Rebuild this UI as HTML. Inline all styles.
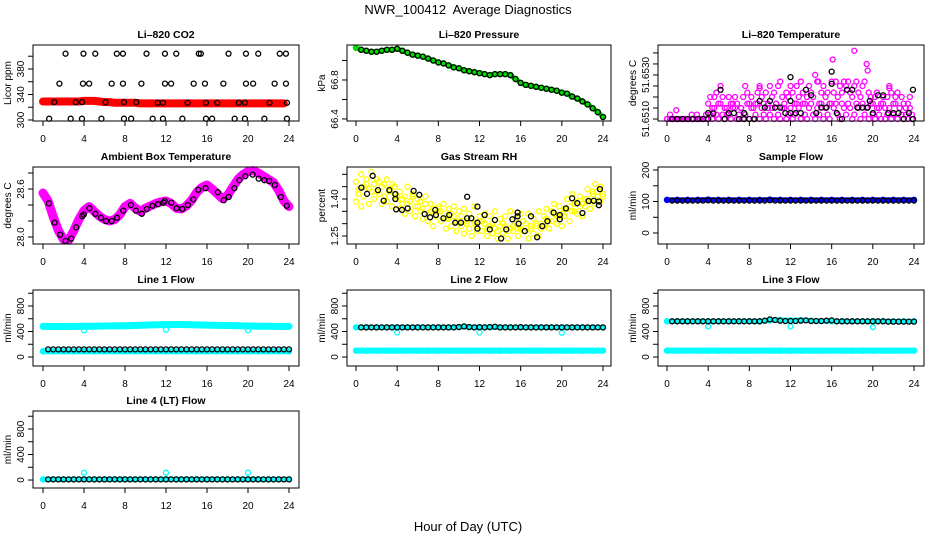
<!DOCTYPE html>
<html><head><meta charset="utf-8"><title>NWR_100412 Average Diagnostics</title>
<style>
html,body{margin:0;padding:0;background:#fff;}
svg{display:block;font-family:"Liberation Sans",sans-serif;}
</style></head>
<body>
<svg id="chart" width="936" height="540" viewBox="0 0 936 540" xmlns="http://www.w3.org/2000/svg">
<rect x="0" y="0" width="936" height="540" fill="#fff"/>
<text x="468" y="14" font-size="13" text-anchor="middle" style="white-space:pre">NWR_100412  Average Diagnostics</text>
<text x="468" y="531" font-size="13" text-anchor="middle">Hour of Day (UTC)</text>
</svg>
<script>
// ---------- shared x categories ----------
const hrs=[0,1,2,3,4,5,6,7,8,9,10,11,12,13,14,15,16,17,18,19,20,21,22,23,24];
const hh=[0.5,1,1.5,2,2.5,3,3.5,4,4.5,5,5.5,6,6.5,7,7.5,8,8.5,9,9.5,10,10.5,11,11.5,12,12.5,13,13.5,14,14.5,15,15.5,16,16.5,17,17.5,18,18.5,19,19.5,20,20.5,21,21.5,22,22.5,23,23.5,24];
const hh0=[0,0.5,1,1.5,2,2.5,3,3.5,4,4.5,5,5.5,6,6.5,7,7.5,8,8.5,9,9.5,10,10.5,11,11.5,12,12.5,13,13.5,14,14.5,15,15.5,16,16.5,17,17.5,18,18.5,19,19.5,20,20.5,21,21.5,22,22.5,23,23.5,24];
const xTicks=[0,4,8,12,16,20,24];

// ---------- CO2 ----------
const co2Band=[329,329,329,329,329,329,329,329,330,330,330,329,328,328,327,327,327,327,327,326,326,326,326,326,326,326,326,326,326,326,326,326,326,326,326,326,326,326,326,326,326,326,326,326,326,326,326,326,326];
const co2BlkX=[2.2,3.95,5.1,7.2,7.8,10.1,11.9,13.0,15.2,15.4,18.1,19.8,21.0,23.1,23.7, 1.6,3.9,4.5,6.7,7.8,9.6,11.9,12.5,14.7,15.8,17.6,19.8,20.5,22.6,23.7, 0.6,2.7,3.8,5.7,7.9,8.6,10.7,11.7,13.6,15.9,16.5,18.7,19.7,21.6,23.8, 1.1,3.2,3.8,6.1,7.9,9.1,11.2,11.7,14.1,15.9,17.0,19.1,19.7,22.1,23.8];
const co2BlkY=[404,404,404,404,404,404,404,404,404,404,404,404,404,404,404, 357,357,357,357,357,357,357,357,357,357,357,357,357,357,357, 302,302,302,302,302,302,302,302,302,302,302,302,302,302,302, 328,328,328,328,328,328,327,327,327,327,327,327,327,327,327];

// ---------- Pressure ----------
const presBand=[67.13,67.11,67.10,67.09,67.09,67.10,67.11,67.11,67.12,67.10,67.08,67.06,67.05,67.04,67.02,67.00,66.98,66.97,66.95,66.93,66.92,66.90,66.89,66.88,66.87,66.86,66.85,66.86,66.86,66.86,66.85,66.81,66.77,66.75,66.74,66.73,66.72,66.71,66.70,66.69,66.67,66.66,66.63,66.61,66.58,66.55,66.51,66.47,66.42];
const presBlk=[67.11,67.10,67.09,67.09,67.10,67.11,67.11,67.12,67.10,67.08,67.06,67.05,67.04,67.02,67.00,66.98,66.97,66.95,66.93,66.92,66.90,66.89,66.88,66.87,66.86,66.85,66.86,66.86,66.86,66.85,66.81,66.77,66.75,66.74,66.73,66.72,66.71,66.70,66.69,66.67,66.66,66.63,66.61,66.58,66.55,66.51,66.47,66.42];

// ---------- Li-820 Temperature ----------
const pinkX=[0,0.3,0.6,0.9,1.2,1.5,1.8,2.1,2.4,2.6,2.9,3.2,3.5,3.8,4.0,4.2,4.4,4.6,4.8,5.0,5.2,5.4,5.6,5.8,6.0,6.2,6.4,6.6,6.8,7.0,7.2,7.4,7.6,7.8,8.0,8.2,8.4,8.6,8.8,9.0,9.2,9.4,9.6,9.8,10.0,10.2,10.4,10.6,10.8,11.0,11.2,11.4,11.6,11.8,12.0,12.2,12.4,12.6,12.8,13.0,13.2,13.4,13.6,13.8,14.0,14.2,14.4,14.6,14.8,15.0,15.2,15.4,15.6,15.8,16.0,16.2,16.4,16.6,16.8,17.0,17.2,17.4,17.6,17.8,18.0,18.2,18.4,18.6,18.8,19.0,19.2,19.4,19.6,19.8,20.0,20.2,20.4,20.6,20.8,21.0,21.2,21.4,21.6,21.8,22.0,22.2,22.4,22.6,22.8,23.0,23.2,23.4,23.6,23.8];
const pinkY1=[51.6510,51.6512,51.6510,51.6510,51.6510,51.6510,51.6510,51.6510,51.6512,51.6510,51.6512,51.6510,51.6510,51.6512,
51.6517,51.6520,51.6515,51.6520,51.6522,51.6517,51.6525,51.6520,51.6515,51.6512,51.6520,51.6517,51.6515,51.6520,51.6517,51.6512,51.6515,51.6520,51.6525,51.6522,51.6517,
51.6520,51.6515,51.6517,51.6522,51.6525,51.6520,51.6517,51.6522,51.6515,51.6525,51.6520,51.6522,51.6517,51.6525,51.6527,51.6520,51.6515,51.6522,51.6520,51.6525,
51.6522,51.6517,51.6525,51.6520,51.6527,51.6522,51.6517,51.6520,51.6525,51.6522,51.6520,51.6530,51.6527,51.6517,51.6522,51.6525,51.6520,51.6522,51.6517,51.6527,
51.6522,51.6527,51.6520,51.6525,51.6522,51.6527,51.6525,51.6527,51.6522,51.6520,51.6525,51.6527,51.6522,51.6520,51.6525,51.6527,51.6535,51.6522,51.6520,51.6517,
51.6520,51.6522,51.6515,51.6517,51.6520,51.6515,51.6520,51.6525,51.6522,51.6517,51.6520,51.6522,51.6515,51.6520,51.6517,51.6515,51.6517,51.6520,51.6512];
const pinkY2=[51.6510,51.6510,51.6510,51.6510,51.6510,51.6510,51.6510,51.6510,51.6510,51.6510,51.6510,51.6510,51.6510,51.6510,
51.6510,51.6512,51.6510,51.6515,51.6512,51.6510,51.6517,51.6512,51.6510,51.6515,51.6512,51.6510,51.6517,51.6515,51.6510,51.6512,51.6515,51.6510,51.6512,51.6517,51.6510,
51.6515,51.6510,51.6512,51.6517,51.6510,51.6515,51.6512,51.6510,51.6517,51.6512,51.6515,51.6510,51.6517,51.6512,51.6510,51.6515,51.6517,51.6510,51.6512,51.6515,
51.6510,51.6512,51.6517,51.6515,51.6510,51.6517,51.6512,51.6510,51.6515,51.6517,51.6512,51.6510,51.6515,51.6512,51.6517,51.6510,51.6515,51.6512,51.6510,51.6517,
51.6515,51.6517,51.6512,51.6510,51.6517,51.6515,51.6512,51.6517,51.6515,51.6510,51.6512,51.6517,51.6515,51.6510,51.6517,51.6512,51.6515,51.6510,51.6517,51.6512,
51.6510,51.6515,51.6512,51.6510,51.6517,51.6510,51.6512,51.6515,51.6510,51.6512,51.6517,51.6510,51.6515,51.6512,51.6510,51.6512,51.6510,51.6515,51.6510];
const pinkOutX=[16.1,18.2,19.5,14.7,9.0,21.6,0.9];
const pinkOutY=[51.6537,51.6541,51.6532,51.6527,51.6524,51.6524,51.6514];
const tempBlkX=[0.5,1,1.5,2,2.5,3,3.5,4,4,4.5,5.2,5.6,6,6.5,7,7.5,7.5,8,8.5,9,9.5,10,10.5,11,11.5,12,12,12,12.5,13,13.5,14,14.5,15,15.5,16,16,16.5,17,17.5,18,18.5,19,19.5,19.7,20,20.5,21,21.5,22,22.5,23,23.5,23.9,23.9];
const tempBlkY=[51.6510,51.6510,51.6510,51.6510,51.6510,51.6510,51.6510,51.6510,51.65127,51.65125,51.65233,51.6510,51.65127,51.65127,51.6510,51.6510,51.65127,51.6510,51.6510,51.65182,51.65152,51.65182,51.65152,51.65152,51.65127,51.6529,51.65182,51.65127,51.65127,51.65127,51.65233,51.65208,51.65127,51.65152,51.65152,51.65315,51.6526,51.65127,51.6510,51.65233,51.65233,51.65152,51.65152,51.65152,51.65182,51.65127,51.65208,51.65208,51.65127,51.65127,51.65127,51.6510,51.65127,51.65233,51.6510];

// ---------- Ambient Box Temperature ----------
const ambBand=[28.55,28.45,28.25,28.08,27.97,27.96,28.08,28.22,28.33,28.38,28.32,28.26,28.22,28.20,28.22,28.28,28.38,28.42,28.36,28.32,28.36,28.39,28.42,28.44,28.45,28.42,28.36,28.35,28.39,28.46,28.56,28.62,28.65,28.60,28.54,28.48,28.52,28.62,28.72,28.78,28.82,28.83,28.80,28.76,28.72,28.68,28.58,28.45,28.38];
const ambBlkX=[0.58,1.13,1.68,2.2,2.75,3.24,3.82,3.98,4.53,5.11,5.66,6.15,6.7,7.22,7.83,8.58,9.06,9.64,10.13,10.68,11.23,11.75,11.88,12.52,13.04,13.59,14.14,14.66,15.15,15.86,17.06,17.64,18.12,18.67,19.16,19.74,20.45,21.04,21.59,22.07,22.62,23.2,23.79];
const ambBlkY=[28.42,28.18,28.03,27.95,27.98,28.12,28.26,28.28,28.36,28.29,28.24,28.20,28.20,28.24,28.33,28.40,28.33,28.29,28.35,28.39,28.41,28.43,28.45,28.43,28.36,28.35,28.40,28.47,28.59,28.61,28.56,28.46,28.50,28.61,28.71,28.76,28.78,28.73,28.71,28.70,28.65,28.50,28.39];

// ---------- Gas Stream RH ----------
const rhX=[0,0.25,0.5,0.75,1,1.25,1.5,1.75,2,2.25,2.5,2.75,3,3.25,3.5,3.75,4,4.25,4.5,4.75,5,5.25,5.5,5.75,6,6.25,6.5,6.75,7,7.25,7.5,7.75,8,8.25,8.5,8.75,9,9.25,9.5,9.75,10,10.25,10.5,10.75,11,11.25,11.5,11.75,12,12.25,12.5,12.75,13,13.25,13.5,13.75,14,14.25,14.5,14.75,15,15.25,15.5,15.75,16,16.25,16.5,16.75,17,17.25,17.5,17.75,18,18.25,18.5,18.75,19,19.25,19.5,19.75,20,20.25,20.5,20.75,21,21.25,21.5,21.75,22,22.25,22.5,22.75,23,23.25,23.5,23.75,24];
const rhY1=[1.47,1.42,1.50,1.45,1.48,1.44,1.51,1.46,1.43, 1.47,1.45,1.41,1.48,1.44,1.46,1.42,1.40, 1.43,1.38,1.41,1.45,1.39,1.42,1.37,1.40, 1.39,1.36,1.41,1.34,1.38,1.36,1.33,1.37, 1.35,1.38,1.32,1.36,1.34,1.37,1.31,1.35, 1.33,1.36,1.30,1.34,1.32,1.37,1.29,1.33, 1.31,1.34,1.28,1.33,1.30,1.35,1.27,1.32, 1.30,1.33,1.27,1.35,1.29,1.32,1.28,1.34, 1.31,1.27,1.34,1.29,1.32,1.30,1.35,1.28, 1.33,1.36,1.31,1.35,1.38,1.33,1.37,1.34, 1.36,1.40,1.37,1.42,1.35,1.39,1.41,1.38, 1.40,1.44,1.39,1.43,1.46,1.41,1.45,1.42];
const rhY2=[1.39,1.44,1.37,1.41,1.46,1.38,1.43,1.40,1.48, 1.42,1.38,1.46,1.39,1.43,1.37,1.45,1.41, 1.36,1.40,1.34,1.38,1.35,1.41,1.33,1.37, 1.35,1.32,1.38,1.31,1.35,1.29,1.33,1.36, 1.31,1.34,1.28,1.32,1.29,1.33,1.27,1.30, 1.29,1.26,1.31,1.28,1.25,1.30,1.27,1.31, 1.27,1.30,1.25,1.29,1.26,1.28,1.24,1.29, 1.26,1.29,1.24,1.28,1.27,1.30,1.25,1.28, 1.27,1.30,1.24,1.28,1.26,1.29,1.25,1.30, 1.29,1.32,1.28,1.31,1.34,1.30,1.33,1.29, 1.33,1.36,1.31,1.35,1.38,1.34,1.37,1.33, 1.37,1.40,1.36,1.42,1.38,1.43,1.39,1.41];
const rhBlkX=[0.52,1.07,1.62,2.14,2.69,3.24,3.82,3.82,3.9,4.47,5.02,5.6,6.15,6.67,7.2,7.7,7.77,8.5,9.06,9.64,10.2,10.8,10.8,11.2,11.8,11.8,11.8,12.5,13.0,13.5,14.1,14.6,15.2,15.7,15.7,15.8,16.4,17.0,17.6,18.1,18.6,19.2,19.8,19.8,20.4,21.0,21.5,22.0,22.6,23.1,23.6,23.6,23.7];
const rhBlkY=[1.446,1.421,1.494,1.436,1.393,1.436,1.420,1.400,1.358,1.356,1.362,1.433,1.417,1.339,1.326,1.356,1.335,1.322,1.335,1.304,1.304,1.322,1.409,1.322,1.304,1.280,1.369,1.335,1.277,1.315,1.240,1.277,1.318,1.345,1.330,1.300,1.270,1.330,1.245,1.290,1.310,1.345,1.335,1.318,1.362,1.403,1.383,1.343,1.392,1.393,1.375,1.390,1.440];

// ---------- Sample Flow ----------
const sampBand=[105,105,105,105,106,105,105,105,105,105,106,105,105,105,105,105,105,105,105,105,105,105,105,105,105];
const sampBlk=[103,103,103,103,103,103,103,104,103,103,103,103,103,103,103,103,103,103,103,104,103,103,103,103,103,103,103,103,103,103,103,103,103,103,103,103,103,103,103,103,103,103,103,103,103,103,103,103];

// ---------- Line flows ----------
const l1High=[480,478,478,480,482,484,486,488,490,494,500,505,508,510,508,504,500,496,494,490,486,484,482,480,480];
const l1Low=[90,90,90,90,90,90,90,90,90,90,90,90,90,90,90,90,90,90,90,90,90,90,90,90,90];
const l1Blk=[120,120,120,120,120,120,120,120,120,120,120,120,120,120,120,120,120,120,120,120,120,120,120,120,120,120,120,120,120,120,120,120,120,120,120,120,120,120,120,120,120,120,120,120,120,120,120,120];
const l1OutX=[4,12,20];
const l1OutY=[420,430,420];

const l2High=[465,465,465,465,465,465,465,465,465,465,470,470,468,468,465,465,465,465,465,465,465,465,465,465,465];
const l2Low=[100,100,100,100,100,100,100,100,100,100,100,100,100,100,100,100,100,100,100,100,100,100,100,100,100];
const l2Blk=[465,465,465,465,465,465,465,465,465,465,465,465,465,465,465,465,465,465,465,470,480,470,465,468,465,470,475,465,465,465,465,468,465,465,465,465,465,465,465,465,465,465,465,465,465,465,465,465];
const l2OutX=[4,12,20];
const l2OutY=[385,385,380];

const l3High=[560,560,560,560,560,560,560,560,560,560,575,580,575,580,570,565,560,560,560,560,560,560,560,560,560];
const l3Low=[100,100,100,100,100,100,100,100,100,100,100,100,100,100,100,100,100,100,100,100,100,100,100,100,100];
const l3Blk=[560,560,560,560,560,560,560,560,560,560,560,560,560,560,560,560,560,560,570,590,580,570,565,565,565,570,575,565,565,565,570,575,560,560,560,560,560,560,560,560,560,560,555,555,555,555,555,555];
const l3OutX=[4,12,20];
const l3OutY=[480,480,470];

const l4Band=[10,10,10,10,10,10,10,10,10,10,10,10,10,10,10,10,10,10,10,10,10,10,10,10,10];
const l4Blk=[10,10,10,10,10,10,10,10,10,10,10,10,10,10,10,10,10,10,10,10,10,10,10,10,10,10,10,10,10,10,10,10,10,10,10,10,10,10,10,10,10,10,10,10,10,10,10,10];
const l4OutX=[4,12,20];
const l4OutY=[115,115,115];

// ---------- drawing ----------
const NS='http://www.w3.org/2000/svg';
const svg=document.getElementById('chart');
function mk(tag,attrs,parent){const e=document.createElementNS(NS,tag);for(const k in attrs)e.setAttribute(k,attrs[k]);(parent||svg).appendChild(e);return e;}

const cols=[{L:33,R:299,x0:43,x24:289},{L:347,R:611,x0:356,x24:603},{L:658,R:924,x0:667,x24:914}];
const rows=[{T:45,B:121},{T:167,B:244},{T:290,B:366},{T:411,B:488}];

function panel(id,title,col,row,yTop,yBot,yTicks,yLabVals,yLabTxt,yTitle){
  const c=cols[col],r=rows[row];
  const g=mk('g',{});
  
  
  const sx=h=>c.x0+h*(c.x24-c.x0)/24;
  const sy=v=>r.T+(yTop-v)/(yTop-yBot)*(r.B-r.T);
  const t=mk('text',{x:(c.L+c.R)/2,y:r.T-7,'font-size':10.5,'font-weight':'bold','text-anchor':'middle'},g);
  t.textContent=title;
  
  
  const plot=mk('g',{},g);
  
  
  const xa=mk('g',{stroke:'#000','stroke-width':1},g);
  
  
  mk('line',{x1:sx(0),x2:sx(24),y1:r.B,y2:r.B},xa);
  xTicks.forEach(v=>{
    mk('line',{x1:sx(v),x2:sx(v),y1:r.B,y2:r.B+5},xa);
    const tx=mk('text',{x:sx(v),y:r.B+21,'font-size':10,'text-anchor':'middle',stroke:'none'},xa);
    tx.textContent=v;
    
    
  });
  const ya=mk('g',{stroke:'#000','stroke-width':1},g);
  
  
  mk('line',{x1:c.L,x2:c.L,y1:sy(yTicks[0]),y2:sy(yTicks[yTicks.length-1])},ya);
  yTicks.forEach(v=>mk('line',{x1:c.L-5,x2:c.L,y1:sy(v),y2:sy(v)},ya));
  yLabVals.forEach((v,i)=>{
    const x=c.L-9,y=sy(v);
    const tx=mk('text',{x:x,y:y,'font-size':10,'text-anchor':'middle',stroke:'none',transform:`rotate(-90 ${x} ${y})`},ya);
    tx.textContent=yLabTxt[i];
    
    
  });
  const yx=c.L-22,yy=(r.T+r.B)/2;
  const yt=mk('text',{x:yx,y:yy,'font-size':10,'text-anchor':'middle',transform:`rotate(-90 ${yx} ${yy})`},g);
  yt.textContent=yTitle;
  
  
  const bx=mk('rect',{x:c.L,y:r.T,width:c.R-c.L,height:r.B-r.T,fill:'none',stroke:'#000','stroke-width':1},g);
  
  
  return {plot,sx,sy};
}
function band(p,name,xs,ys,color,w){
  const pts=xs.map((x,i)=>p.sx(x).toFixed(1)+','+p.sy(ys[i]).toFixed(1)).join(' ');
  const pl=mk('polyline',{points:pts,fill:'none',stroke:color,'stroke-width':w,'stroke-linejoin':'round','stroke-linecap':'round'},p.plot);
  
  
  xs.forEach((x,i)=>{
    const ci=mk('circle',{cx:p.sx(x),cy:p.sy(ys[i]),r:2.6,fill:'none',stroke:color,'stroke-width':1.3},p.plot);
    
    
  });
}
function pts(p,name,xs,ys,color){
  xs.forEach((x,i)=>{
    const ci=mk('circle',{cx:p.sx(x),cy:p.sy(ys[i]),r:2.5,fill:'none',stroke:color,'stroke-width':1.3},p.plot);
    
    
  });
}

let p=panel('co2','Li\u2013820 CO2',0,0,417.6,298.4,[300,320,340,360,380,400],[300,340,380],['300','340','380'],'Licor ppm');
band(p,'co2-band',hh0.slice(0,48),co2Band.slice(0,48),'#ff0000',8);
pts(p,'co2-sample',co2BlkX,co2BlkY,'#000');
p=panel('pressure','Li\u2013820 Pressure',1,0,67.159,66.379,[66.4,66.6,66.8,67.0],[66.4,66.8],['66.4','66.8'],'kPa');
band(p,'pressure-band',hh0,presBand,'#00dd00',5);
pts(p,'pressure-sample',hh,presBlk,'#000');
p=panel('li820-temp','Li\u2013820 Temperature',2,0,51.65436,51.65091,[51.6510,51.6515,51.6520,51.6525,51.6530,51.6535,51.6540],[51.6510,51.6530],['51.6510','51.6530'],'degrees C');
pts(p,'temp-scatter',pinkX,pinkY2,'#ff00ff');
pts(p,'temp-scatter',pinkX,pinkY1,'#ff00ff');
pts(p,'temp-outlier',pinkOutX,pinkOutY,'#ff00ff');
pts(p,'temp-sample',tempBlkX,tempBlkY,'#000');
p=panel('ambient','Ambient Box Temperature',0,1,28.875,27.9125,[28.0,28.2,28.4,28.6,28.8],[28.0,28.6],['28.0','28.6'],'degrees C');
band(p,'ambient-band',hh0,ambBand,'#ff00ff',9);
pts(p,'ambient-sample',ambBlkX,ambBlkY,'#000');
p=panel('rh','Gas Stream RH',1,1,1.5297,1.2176,[1.25,1.30,1.35,1.40,1.45,1.50],[1.25,1.40],['1.25','1.40'],'percent');
pts(p,'rh-scatter',rhX,rhY1,'#ffff00');
pts(p,'rh-scatter',rhX,rhY2,'#ffff00');
pts(p,'rh-sample',rhBlkX,rhBlkY,'#000');
p=panel('sample-flow','Sample Flow',2,1,209.5,-34.9,[0,50,100,150,200],[0,100,200],['0','100','200'],'ml/min');
band(p,'sample-flow-band',hrs,sampBand,'#0000ff',5);
pts(p,'sample-flow-sample',hh,sampBlk,'#000');
p=panel('line1','Line 1 Flow',0,2,1051,-141,[0,200,400,600,800,1000],[0,400,800],['0','400','800'],'ml/min');
band(p,'line1-high',hrs,l1High,'#00ffff',7);
band(p,'line1-low',hrs,l1Low,'#00ffff',6);
pts(p,'line1-outlier',l1OutX,l1OutY,'#00ffff');
pts(p,'line1-sample',hh,l1Blk,'#000');
p=panel('line2','Line 2 Flow',1,2,1051,-141,[0,200,400,600,800,1000],[0,400,800],['0','400','800'],'ml/min');
band(p,'line2-high',hrs,l2High,'#00ffff',5);
band(p,'line2-low',hrs,l2Low,'#00ffff',6);
pts(p,'line2-outlier',l2OutX,l2OutY,'#00ffff');
pts(p,'line2-sample',hh,l2Blk,'#000');
p=panel('line3','Line 3 Flow',2,2,1051,-141,[0,200,400,600,800,1000],[0,400,800],['0','400','800'],'ml/min');
band(p,'line3-high',hrs,l3High,'#00ffff',5);
band(p,'line3-low',hrs,l3Low,'#00ffff',6);
pts(p,'line3-outlier',l3OutX,l3OutY,'#00ffff');
pts(p,'line3-sample',hh,l3Blk,'#000');
p=panel('line4','Line 4 (LT) Flow',0,3,1082,-125,[0,200,400,600,800,1000],[0,400,800],['0','400','800'],'ml/min');
band(p,'line4-band',hrs,l4Band,'#00ffff',5);
pts(p,'line4-outlier',l4OutX,l4OutY,'#00ffff');
pts(p,'line4-sample',hh,l4Blk,'#000');
</script>
</body></html>
